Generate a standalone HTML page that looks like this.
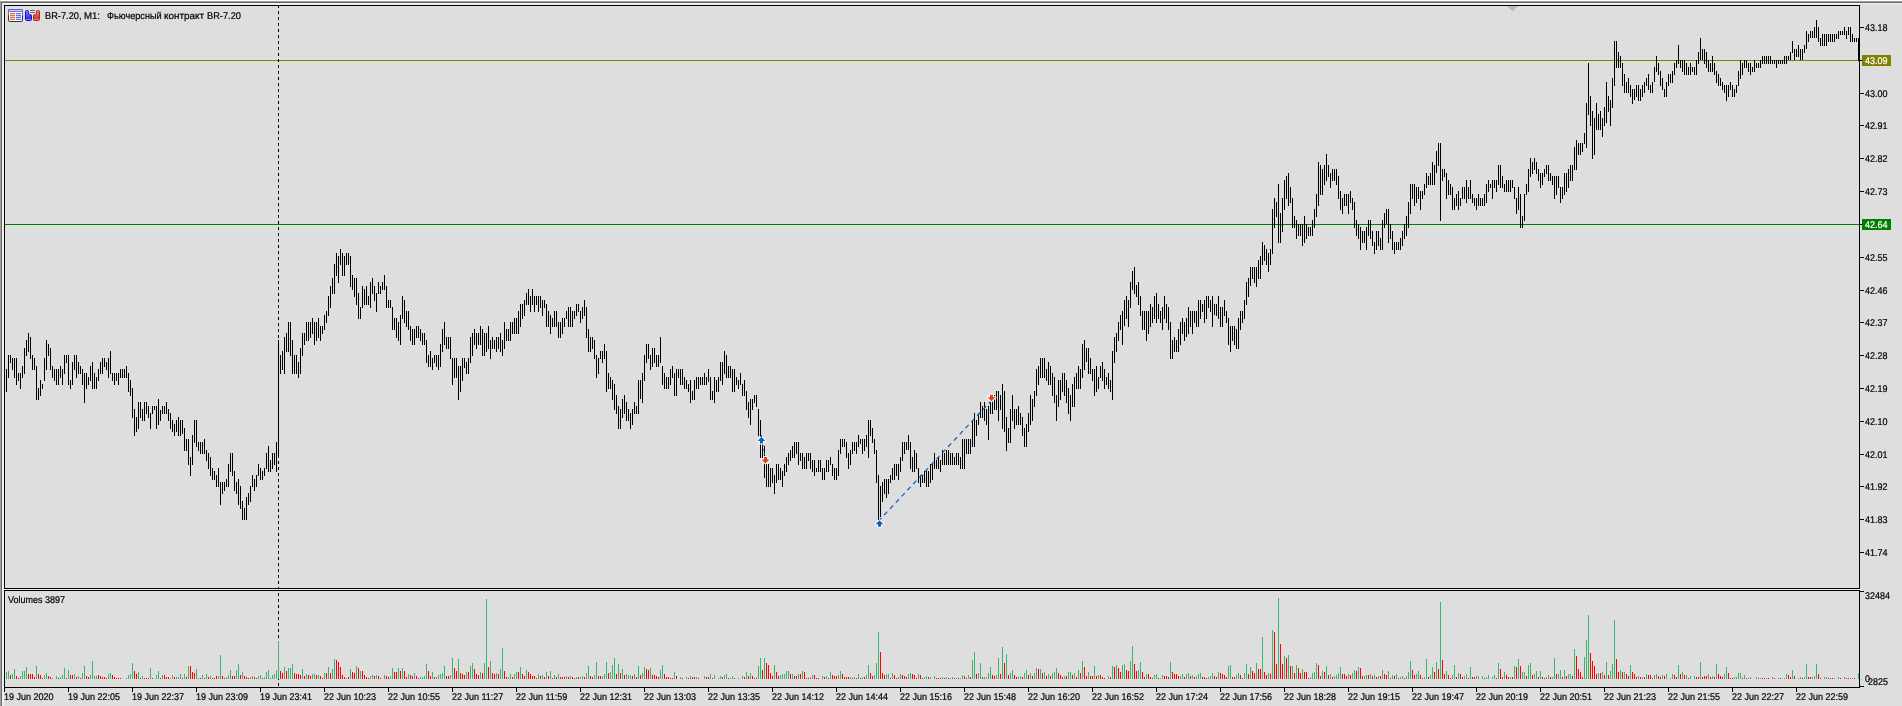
<!DOCTYPE html><html><head><meta charset="utf-8"><title>BR-7.20,M1</title>
<style>
html,body{margin:0;padding:0;background:#dedede;}
body{width:1902px;height:706px;overflow:hidden;position:relative;font-family:"Liberation Sans",sans-serif;font-size:10px;color:#000;}
#c{position:absolute;left:0;top:0;width:1902px;height:706px;}
.t{position:absolute;white-space:nowrap;line-height:10px;height:10px;transform-origin:0 100%;transform:scale(0.9,0.978);text-rendering:geometricPrecision;-webkit-text-stroke:0.22px currentColor;}
.pl{position:absolute;left:1865px;width:40px;}
</style></head><body>
<svg id="c" width="1902" height="706" viewBox="0 0 1902 706" shape-rendering="crispEdges">
<rect x="0" y="0" width="1902" height="1" fill="#ffffff"/>
<rect x="0" y="1" width="1902" height="1" fill="#a0a0a0"/>
<rect x="0" y="2" width="1902" height="1" fill="#696969"/>
<rect x="0" y="1" width="1" height="705" fill="#a0a0a0"/>
<rect x="1" y="2" width="1" height="704" fill="#696969"/>
<rect x="2" y="3" width="1900" height="1" fill="#f0f0f0"/>
<rect x="2" y="4" width="1858" height="1" fill="#f0f0f0"/>
<rect x="2" y="3" width="2" height="703" fill="#f0f0f0"/>
<path d="M4.5 588.5V5.5H1859.5V588.5H4.5" fill="none" stroke="#000" stroke-width="1"/>
<rect x="4" y="589" width="1856" height="1" fill="#e8e8e8"/>
<path d="M4.5 692V590.5H1859.5V687.5H4.5" fill="none" stroke="#000" stroke-width="1"/>
<path d="M1860 591.5H1864M1860 686.5H1864" stroke="#000" stroke-width="1"/>
<rect x="1860" y="679" width="2" height="1" fill="#c4c4c4"/>
<path d="M1507 6H1518L1512.5 11.5Z" fill="#b9b9b9" shape-rendering="auto"/>
<rect x="5" y="60" width="1854" height="1" fill="#808000"/>
<rect x="5" y="224" width="1854" height="1" fill="#008000"/>
<path d="M278.5 5V687" stroke="#000" stroke-width="1" stroke-dasharray="3 3" fill="none"/>
<rect x="278" y="589" width="1" height="1" fill="#e8e8e8"/>
<path d="M68.5 688V692M132.5 688V692M196.5 688V692M260.5 688V692M324.5 688V692M388.5 688V692M452.5 688V692M516.5 688V692M580.5 688V692M644.5 688V692M708.5 688V692M772.5 688V692M836.5 688V692M900.5 688V692M964.5 688V692M1028.5 688V692M1092.5 688V692M1156.5 688V692M1220.5 688V692M1284.5 688V692M1348.5 688V692M1412.5 688V692M1476.5 688V692M1540.5 688V692M1604.5 688V692M1668.5 688V692M1732.5 688V692M1796.5 688V692" stroke="#000" stroke-width="1"/>
<path d="M1860 27.5H1864M1860 60.5H1864M1860 93.5H1864M1860 125.5H1864M1860 158.5H1864M1860 191.5H1864M1860 224.5H1864M1860 257.5H1864M1860 290.5H1864M1860 322.5H1864M1860 355.5H1864M1860 388.5H1864M1860 421.5H1864M1860 454.5H1864M1860 486.5H1864M1860 519.5H1864M1860 552.5H1864" stroke="#000" stroke-width="1"/>
<path d="M6.5 369V392M8.5 355V378M10.5 355V363M12.5 358V370M14.5 358V378M16.5 358V385M18.5 373V381M20.5 373V389M22.5 366V378M24.5 348V374M26.5 340V356M28.5 333V352M30.5 337V359M32.5 355V370M34.5 358V370M36.5 366V400M38.5 388V400M40.5 380V396M42.5 384V389M44.5 358V381M46.5 340V370M48.5 344V356M50.5 348V370M52.5 366V378M54.5 369V381M56.5 369V385M58.5 369V385M60.5 366V378M62.5 369V385M64.5 355V374M66.5 355V363M68.5 355V385M70.5 380V389M72.5 362V385M74.5 355V370M76.5 355V378M78.5 362V374M80.5 366V374M82.5 369V385M84.5 373V403M86.5 373V389M88.5 377V385M90.5 366V381M92.5 362V389M94.5 373V389M96.5 377V389M98.5 369V381M100.5 362V374M102.5 358V374M104.5 358V367M106.5 362V370M108.5 358V378M110.5 351V374M112.5 373V381M114.5 373V385M116.5 373V381M118.5 373V385M120.5 369V378M122.5 369V378M124.5 369V378M126.5 366V378M128.5 373V392M130.5 380V396M132.5 388V418M134.5 409V436M136.5 417V432M138.5 402V429M140.5 402V418M142.5 409V421M144.5 402V421M146.5 402V414M148.5 406V418M150.5 413V429M152.5 406V414M154.5 406V410M156.5 406V429M158.5 399V425M160.5 410V421M162.5 406V414M164.5 406V414M166.5 402V414M168.5 409V421M170.5 413V429M172.5 420V432M174.5 424V436M176.5 420V432M178.5 417V436M180.5 420V436M182.5 420V434M184.5 428V451M186.5 439V451M188.5 439V465M190.5 457V476M192.5 435V465M194.5 420V443M196.5 420V447M198.5 442V451M200.5 442V454M202.5 442V454M204.5 439V454M206.5 450V461M208.5 453V469M210.5 457V476M212.5 468V480M214.5 471V480M216.5 475V487M218.5 468V487M220.5 482V505M222.5 482V494M224.5 482V491M226.5 479V487M228.5 464V487M230.5 453V472M232.5 453V476M234.5 471V491M236.5 482V494M238.5 479V505M240.5 486V509M242.5 501V520M244.5 508V520M246.5 497V520M248.5 493V505M250.5 486V502M252.5 475V487M254.5 479V491M256.5 475V487M258.5 464V476M260.5 468V480M262.5 471V480M264.5 468V476M266.5 453V469M268.5 446V472M270.5 460V472M272.5 453V469M274.5 453V465M276.5 442V472M278.5 340V458M280.5 355V374M282.5 351V370M284.5 337V374M286.5 333V352M288.5 322V352M290.5 322V356M292.5 340V374M294.5 355V374M296.5 355V374M298.5 362V378M300.5 348V374M302.5 333V356M304.5 333V345M306.5 322V341M308.5 322V341M310.5 322V338M312.5 318V334M314.5 322V345M316.5 322V341M318.5 318V338M320.5 326V341M322.5 326V334M324.5 315V330M326.5 311V323M328.5 296V316M330.5 286V308M332.5 278V294M334.5 264V294M336.5 253V276M338.5 256V283M340.5 249V265M342.5 253V276M344.5 256V276M346.5 253V265M348.5 253V265M350.5 256V287M352.5 275V290M354.5 278V297M356.5 278V305M358.5 293V319M360.5 307V319M362.5 286V308M364.5 289V305M366.5 286V305M368.5 296V305M370.5 282V308M372.5 278V294M374.5 286V301M376.5 293V312M378.5 282V294M380.5 286V294M382.5 282V290M384.5 275V290M386.5 286V308M388.5 300V308M390.5 300V308M392.5 307V330M394.5 318V330M396.5 318V338M398.5 322V341M400.5 315V345M402.5 296V319M404.5 300V323M406.5 311V327M408.5 311V330M410.5 326V341M412.5 329V345M414.5 329V345M416.5 326V338M418.5 326V338M420.5 329V341M422.5 333V345M424.5 333V345M426.5 340V363M428.5 355V367M430.5 351V367M432.5 358V370M434.5 355V363M436.5 355V367M438.5 355V370M440.5 344V367M442.5 329V352M444.5 322V345M446.5 337V349M448.5 337V349M450.5 337V359M452.5 358V385M454.5 358V378M456.5 358V378M458.5 366V400M460.5 366V392M462.5 358V381M464.5 358V368M466.5 362V374M468.5 358V374M470.5 337V363M472.5 333V356M474.5 329V345M476.5 333V349M478.5 333V345M480.5 326V345M482.5 329V356M484.5 333V356M486.5 333V352M488.5 326V349M490.5 340V359M492.5 337V349M494.5 340V349M496.5 337V352M498.5 337V349M500.5 333V352M502.5 340V356M504.5 322V349M506.5 329V341M508.5 329V341M510.5 322V341M512.5 322V334M514.5 318V334M516.5 318V334M518.5 311V334M520.5 304V327M522.5 304V319M524.5 300V316M526.5 293V305M528.5 289V305M530.5 296V312M532.5 289V305M534.5 296V312M536.5 296V305M538.5 296V312M540.5 296V308M542.5 300V316M544.5 300V308M546.5 304V327M548.5 311V327M550.5 315V334M552.5 318V327M554.5 311V327M556.5 311V327M558.5 322V338M560.5 322V338M562.5 318V334M564.5 318V327M566.5 311V319M568.5 307V327M570.5 307V327M572.5 311V327M574.5 311V319M576.5 304V316M578.5 304V312M580.5 311V323M582.5 307V319M584.5 300V316M586.5 307V338M588.5 329V352M590.5 337V352M592.5 337V349M594.5 340V359M596.5 355V378M598.5 358V374M600.5 351V359M602.5 351V363M604.5 344V359M606.5 351V392M608.5 373V389M610.5 377V389M612.5 380V400M614.5 384V410M616.5 395V414M618.5 406V429M620.5 409V429M622.5 399V418M624.5 395V414M626.5 402V421M628.5 409V421M630.5 413V429M632.5 409V425M634.5 402V414M636.5 406V414M638.5 380V414M640.5 380V399M642.5 373V403M644.5 355V381M646.5 344V363M648.5 344V359M650.5 355V370M652.5 348V367M654.5 348V363M656.5 355V367M658.5 355V367M660.5 337V363M662.5 366V385M664.5 373V389M666.5 377V389M668.5 377V389M670.5 369V385M672.5 366V378M674.5 373V396M676.5 369V396M678.5 369V378M680.5 369V385M682.5 369V385M684.5 377V389M686.5 380V389M688.5 384V392M690.5 380V403M692.5 391V400M694.5 380V400M696.5 377V389M698.5 377V389M700.5 377V385M702.5 377V385M704.5 373V385M706.5 377V385M708.5 369V382M710.5 377V400M712.5 391V400M714.5 377V403M716.5 380V392M718.5 377V392M720.5 362V381M722.5 362V385M724.5 351V374M726.5 355V378M728.5 366V378M730.5 366V378M732.5 369V392M734.5 369V392M736.5 377V385M738.5 380V389M740.5 373V385M742.5 384V396M744.5 380V396M746.5 391V410M748.5 402V418M750.5 399V425M752.5 399V410M754.5 395V403M756.5 395V407M758.5 409V436M760.5 420V458M762.5 440V458M764.5 446V478M766.5 464V487M768.5 464V487M770.5 468V487M772.5 468V483M774.5 475V494M776.5 464V483M778.5 464V480M780.5 468V480M782.5 471V487M784.5 464V476M786.5 457V472M788.5 453V465M790.5 450V461M792.5 446V458M794.5 442V458M796.5 442V454M798.5 442V465M800.5 453V461M802.5 453V469M804.5 457V469M806.5 453V469M808.5 453V461M810.5 453V469M812.5 460V472M814.5 460V476M816.5 468V472M818.5 460V472M820.5 460V472M822.5 468V480M824.5 468V480M826.5 460V472M828.5 460V472M830.5 457V465M832.5 464V476M834.5 468V480M836.5 468V480M838.5 450V476M840.5 439V454M842.5 439V447M844.5 439V447M846.5 442V458M848.5 453V469M850.5 450V465M852.5 442V454M854.5 442V451M856.5 442V454M858.5 435V447M860.5 439V444M862.5 439V454M864.5 439V451M866.5 435V447M868.5 420V458M870.5 420V436M872.5 428V443M874.5 439V454M876.5 450V483M878.5 475V520M880.5 486V517M882.5 482V502M884.5 479V494M886.5 479V498M888.5 479V494M890.5 475V483M892.5 468V480M894.5 464V480M896.5 464V476M898.5 464V480M900.5 457V472M902.5 442V461M904.5 442V454M906.5 442V450M908.5 435V450M910.5 442V469M912.5 457V472M914.5 450V472M916.5 453V469M918.5 468V483M920.5 475V487M922.5 475V483M924.5 471V483M926.5 471V487M928.5 471V487M930.5 464V483M932.5 464V480M934.5 453V469M936.5 460V469M938.5 457V469M940.5 460V472M942.5 450V465M944.5 453V465M946.5 450V465M948.5 450V465M950.5 453V465M952.5 453V465M954.5 457V465M956.5 453V465M958.5 453V465M960.5 457V469M962.5 439V469M964.5 439V469M966.5 439V454M968.5 439V454M970.5 439V454M972.5 420V447M974.5 413V447M976.5 420V436M978.5 413V425M980.5 402V418M982.5 406V418M984.5 402V421M986.5 409V425M988.5 406V440M990.5 402V414M992.5 399V414M994.5 395V410M996.5 391V410M998.5 391V421M1000.5 395V410M1002.5 384V429M1004.5 391V432M1006.5 417V451M1008.5 428V443M1010.5 409V443M1012.5 395V421M1014.5 409V429M1016.5 409V425M1018.5 406V425M1020.5 413V425M1022.5 417V436M1024.5 428V447M1026.5 424V447M1028.5 413V432M1030.5 395V425M1032.5 399V421M1034.5 391V407M1036.5 369V396M1038.5 366V385M1040.5 358V378M1042.5 358V378M1044.5 358V378M1046.5 369V381M1048.5 362V385M1050.5 366V385M1052.5 373V396M1054.5 377V403M1056.5 395V421M1058.5 380V407M1060.5 380V400M1062.5 373V392M1064.5 373V396M1066.5 380V403M1068.5 388V414M1070.5 395V421M1072.5 384V407M1074.5 377V407M1076.5 373V389M1078.5 366V389M1080.5 369V389M1082.5 344V378M1084.5 340V370M1086.5 348V362M1088.5 348V374M1090.5 358V374M1092.5 369V381M1094.5 369V396M1096.5 366V392M1098.5 377V389M1100.5 366V378M1102.5 362V381M1104.5 369V389M1106.5 377V385M1108.5 373V389M1110.5 380V392M1112.5 351V400M1114.5 337V363M1116.5 333V352M1118.5 322V341M1120.5 315V330M1122.5 311V345M1124.5 300V326M1126.5 296V319M1128.5 300V327M1130.5 282V308M1132.5 271V290M1134.5 267V294M1136.5 285V297M1138.5 282V305M1140.5 296V316M1142.5 311V330M1144.5 311V330M1146.5 311V341M1148.5 311V334M1150.5 304V327M1152.5 307V323M1154.5 296V319M1156.5 293V323M1158.5 304V319M1160.5 311V323M1162.5 307V330M1164.5 296V319M1166.5 304V323M1168.5 307V330M1170.5 322V359M1172.5 340V359M1174.5 337V352M1176.5 340V352M1178.5 329V352M1180.5 322V345M1182.5 318V334M1184.5 322V341M1186.5 318V337M1188.5 307V334M1190.5 311V327M1192.5 311V334M1194.5 311V323M1196.5 311V327M1198.5 300V327M1200.5 300V319M1202.5 304V312M1204.5 300V323M1206.5 296V319M1208.5 296V308M1210.5 300V312M1212.5 296V327M1214.5 304V315M1216.5 304V316M1218.5 296V319M1220.5 307V327M1222.5 307V327M1224.5 300V316M1226.5 311V323M1228.5 318V345M1230.5 326V352M1232.5 326V341M1234.5 326V345M1236.5 329V349M1238.5 318V349M1240.5 311V330M1242.5 311V323M1244.5 300V319M1246.5 282V305M1248.5 278V297M1250.5 267V286M1252.5 267V279M1254.5 267V283M1256.5 267V287M1258.5 260V279M1260.5 256V279M1262.5 242V265M1264.5 245V261M1266.5 249V265M1268.5 253V272M1270.5 249V265M1272.5 209V254M1274.5 198V228M1276.5 202V217M1278.5 184V243M1280.5 213V243M1282.5 198V232M1284.5 180V210M1286.5 176V199M1288.5 173V206M1290.5 187V203M1292.5 198V228M1294.5 216V228M1296.5 220V239M1298.5 224V236M1300.5 224V236M1302.5 224V246M1304.5 216V243M1306.5 224V239M1308.5 227V236M1310.5 227V236M1312.5 220V236M1314.5 209V228M1316.5 194V217M1318.5 162V206M1320.5 165V195M1322.5 169V195M1324.5 165V185M1326.5 154V181M1328.5 165V177M1330.5 173V188M1332.5 169V181M1334.5 169V181M1336.5 169V185M1338.5 176V199M1340.5 191V210M1342.5 198V214M1344.5 194V206M1346.5 194V206M1348.5 194V214M1350.5 191V203M1352.5 198V210M1354.5 202V228M1356.5 220V236M1358.5 224V239M1360.5 227V250M1362.5 231V243M1364.5 231V243M1366.5 227V250M1368.5 220V236M1370.5 220V239M1372.5 231V246M1374.5 242V254M1376.5 231V250M1378.5 231V246M1380.5 238V250M1382.5 220V250M1384.5 213V228M1386.5 209V224M1388.5 209V243M1390.5 224V239M1392.5 231V250M1394.5 242V254M1396.5 242V250M1398.5 242V250M1400.5 238V250M1402.5 231V246M1404.5 224V239M1406.5 216V236M1408.5 202V228M1410.5 184V214M1412.5 184V199M1414.5 184V206M1416.5 187V203M1418.5 187V199M1420.5 191V210M1422.5 191V199M1424.5 184V195M1426.5 173V188M1428.5 176V185M1430.5 173V185M1432.5 162V185M1434.5 165V185M1436.5 151V173M1438.5 143V166M1440.5 143V221M1442.5 169V181M1444.5 169V177M1446.5 173V199M1448.5 180V195M1450.5 184V195M1452.5 187V210M1454.5 198V210M1456.5 194V206M1458.5 191V210M1460.5 198V206M1462.5 187V199M1464.5 187V199M1466.5 180V203M1468.5 187V199M1470.5 180V199M1472.5 194V203M1474.5 198V206M1476.5 198V210M1478.5 194V206M1480.5 198V206M1482.5 198V206M1484.5 194V206M1486.5 184V203M1488.5 180V192M1490.5 184V188M1492.5 180V199M1494.5 180V188M1496.5 180V192M1498.5 165V185M1500.5 165V188M1502.5 176V188M1504.5 184V192M1506.5 180V192M1508.5 180V192M1510.5 180V192M1512.5 180V188M1514.5 187V199M1516.5 198V214M1518.5 187V210M1520.5 194V228M1522.5 216V228M1524.5 194V221M1526.5 184V195M1528.5 169V192M1530.5 158V177M1532.5 162V174M1534.5 158V170M1536.5 162V174M1538.5 169V181M1540.5 173V188M1542.5 173V185M1544.5 169V177M1546.5 165V174M1548.5 165V181M1550.5 173V181M1552.5 176V185M1554.5 176V199M1556.5 176V195M1558.5 176V188M1560.5 187V203M1562.5 187V199M1564.5 173V195M1566.5 173V192M1568.5 169V188M1570.5 165V181M1572.5 165V181M1574.5 147V170M1576.5 140V170M1578.5 143V155M1580.5 143V155M1582.5 143V152M1584.5 133V144M1586.5 103V148M1588.5 63V115M1590.5 96V126M1592.5 111V159M1594.5 118V155M1596.5 103V130M1598.5 114V130M1600.5 111V130M1602.5 118V137M1604.5 107V126M1606.5 82V123M1608.5 96V112M1610.5 100V126M1612.5 78V108M1614.5 41V86M1616.5 41V68M1618.5 52V68M1620.5 56V68M1622.5 63V86M1624.5 74V93M1626.5 82V93M1628.5 78V93M1630.5 85V97M1632.5 89V104M1634.5 89V100M1636.5 85V97M1638.5 85V101M1640.5 89V101M1642.5 85V97M1644.5 82V93M1646.5 78V86M1648.5 74V90M1650.5 85V93M1652.5 82V93M1654.5 67V82M1656.5 56V72M1658.5 63V75M1660.5 71V86M1662.5 78V90M1664.5 89V97M1666.5 82V97M1668.5 74V86M1670.5 74V83M1672.5 71V83M1674.5 63V75M1676.5 60V68M1678.5 45V64M1680.5 60V68M1682.5 60V72M1684.5 60V75M1686.5 63V75M1688.5 67V75M1690.5 63V75M1692.5 67V72M1694.5 67V75M1696.5 60V75M1698.5 52V64M1700.5 38V60M1702.5 49V60M1704.5 49V64M1706.5 52V68M1708.5 60V72M1710.5 63V72M1712.5 56V72M1714.5 63V75M1716.5 71V83M1718.5 74V86M1720.5 78V86M1722.5 82V90M1724.5 85V93M1726.5 85V101M1728.5 85V97M1730.5 82V90M1732.5 85V97M1734.5 89V97M1736.5 85V93M1738.5 71V86M1740.5 60V79M1742.5 63V75M1744.5 60V68M1746.5 60V68M1748.5 63V72M1750.5 63V75M1752.5 67V72M1754.5 60V72M1756.5 63V68M1758.5 63V68M1760.5 60V68M1762.5 56V64M1764.5 56V64M1766.5 56V64M1768.5 56V64M1770.5 56V64M1772.5 60V64M1774.5 60V64M1776.5 60V68M1778.5 60V64M1780.5 60V64M1782.5 60V64M1784.5 56V64M1786.5 56V64M1788.5 56V60M1790.5 52V60M1792.5 41V53M1794.5 49V60M1796.5 49V57M1798.5 45V57M1800.5 49V60M1802.5 49V60M1804.5 45V53M1806.5 31V49M1808.5 34V42M1810.5 31V38M1812.5 31V38M1814.5 27V38M1816.5 20V38M1818.5 27V42M1820.5 38V46M1822.5 34V46M1824.5 34V46M1826.5 34V46M1828.5 34V42M1830.5 34V42M1832.5 34V42M1834.5 34V42M1836.5 34V39M1838.5 31V39M1840.5 31V35M1842.5 31V35M1844.5 27V35M1846.5 31V39M1848.5 27V35M1850.5 27V42M1852.5 34V42M1854.5 38V42M1856.5 38V42M1858.5 38V60" stroke="#000" stroke-width="1" fill="none"/>
<path d="M6.5 672V679M8.5 671V679M12.5 674V679M14.5 669V679M20.5 676V679M22.5 671V679M24.5 671V679M26.5 667V679M36.5 666V679M44.5 675V679M46.5 673V679M52.5 678V679M56.5 676V679M60.5 677V679M62.5 675V679M64.5 668V679M68.5 670V679M74.5 674V679M78.5 676V679M82.5 673V679M84.5 666V679M90.5 675V679M92.5 661V679M94.5 676V679M96.5 676V679M108.5 674V679M110.5 673V679M126.5 678V679M128.5 675V679M130.5 674V679M132.5 663V679M138.5 672V679M142.5 676V679M150.5 668V679M156.5 675V679M158.5 671V679M162.5 675V679M170.5 678V679M172.5 675V679M176.5 677V679M178.5 677V679M180.5 674V679M184.5 674V679M188.5 666V679M196.5 669V679M198.5 678V679M202.5 675V679M206.5 674V679M210.5 676V679M218.5 676V679M220.5 655V679M226.5 677V679M228.5 675V679M230.5 670V679M236.5 670V679M238.5 664V679M242.5 672V679M250.5 677V679M252.5 676V679M258.5 676V679M260.5 675V679M264.5 677V679M266.5 672V679M268.5 670V679M272.5 675V679M274.5 674V679M276.5 670V679M278.5 641V679M284.5 667V679M288.5 668V679M290.5 668V679M292.5 664V679M302.5 669V679M306.5 674V679M312.5 674V679M314.5 674V679M318.5 675V679M324.5 673V679M328.5 667V679M332.5 669V679M334.5 659V679M346.5 678V679M350.5 669V679M356.5 666V679M360.5 671V679M370.5 676V679M372.5 675V679M376.5 675V679M384.5 675V679M390.5 676V679M392.5 668V679M398.5 668V679M402.5 668V679M408.5 674V679M414.5 673V679M420.5 677V679M422.5 677V679M424.5 676V679M426.5 664V679M432.5 672V679M436.5 677V679M438.5 675V679M440.5 674V679M442.5 673V679M444.5 666V679M450.5 675V679M452.5 658V679M458.5 659V679M466.5 672V679M470.5 666V679M472.5 663V679M480.5 672V679M484.5 663V679M486.5 599V679M490.5 661V679M496.5 673V679M500.5 669V679M502.5 648V679M508.5 677V679M510.5 674V679M514.5 674V679M516.5 672V679M520.5 667V679M526.5 670V679M538.5 674V679M542.5 675V679M546.5 672V679M550.5 671V679M554.5 675V679M558.5 674V679M566.5 676V679M570.5 676V679M576.5 677V679M580.5 677V679M582.5 676V679M586.5 673V679M588.5 666V679M594.5 675V679M596.5 662V679M602.5 676V679M604.5 674V679M606.5 662V679M610.5 672V679M612.5 665V679M614.5 658V679M618.5 664V679M622.5 669V679M626.5 674V679M628.5 675V679M630.5 675V679M634.5 674V679M638.5 666V679M642.5 673V679M644.5 667V679M650.5 668V679M660.5 670V679M662.5 665V679M674.5 672V679M680.5 677V679M686.5 677V679M690.5 676V679M696.5 677V679M704.5 676V679M710.5 674V679M714.5 675V679M718.5 678V679M720.5 676V679M724.5 675V679M726.5 674V679M730.5 678V679M732.5 676V679M738.5 678V679M742.5 676V679M746.5 672V679M750.5 673V679M756.5 677V679M758.5 666V679M760.5 658V679M764.5 658V679M774.5 665V679M780.5 675V679M782.5 674V679M784.5 674V679M786.5 671V679M788.5 671V679M792.5 674V679M798.5 674V679M802.5 671V679M810.5 677V679M812.5 675V679M822.5 676V679M826.5 676V679M830.5 672V679M838.5 675V679M840.5 671V679M850.5 677V679M854.5 677V679M858.5 674V679M862.5 677V679M866.5 675V679M868.5 665V679M874.5 675V679M876.5 663V679M878.5 632V679M886.5 674V679M888.5 674V679M892.5 673V679M898.5 677V679M900.5 674V679M908.5 674V679M910.5 673V679M918.5 674V679M924.5 677V679M926.5 676V679M930.5 677V679M934.5 676V679M942.5 677V679M946.5 677V679M950.5 678V679M952.5 677V679M956.5 678V679M960.5 678V679M962.5 675V679M968.5 675V679M972.5 660V679M974.5 652V679M978.5 673V679M980.5 663V679M984.5 677V679M986.5 677V679M988.5 673V679M990.5 667V679M996.5 675V679M998.5 658V679M1002.5 647V679M1006.5 654V679M1010.5 673V679M1012.5 670V679M1018.5 677V679M1020.5 676V679M1024.5 673V679M1026.5 670V679M1030.5 673V679M1034.5 673V679M1036.5 668V679M1040.5 669V679M1044.5 672V679M1048.5 674V679M1052.5 673V679M1054.5 672V679M1056.5 668V679M1064.5 676V679M1068.5 672V679M1070.5 672V679M1074.5 673V679M1078.5 670V679M1082.5 661V679M1088.5 672V679M1094.5 666V679M1098.5 675V679M1108.5 676V679M1112.5 666V679M1116.5 665V679M1122.5 665V679M1124.5 664V679M1130.5 661V679M1132.5 646V679M1138.5 670V679M1140.5 662V679M1146.5 674V679M1154.5 675V679M1156.5 674V679M1160.5 678V679M1162.5 675V679M1170.5 662V679M1180.5 676V679M1182.5 674V679M1186.5 674V679M1188.5 673V679M1192.5 675V679M1196.5 676V679M1198.5 674V679M1200.5 673V679M1208.5 677V679M1210.5 676V679M1212.5 673V679M1218.5 672V679M1228.5 666V679M1230.5 665V679M1236.5 675V679M1238.5 673V679M1244.5 673V679M1246.5 664V679M1250.5 667V679M1256.5 663V679M1262.5 637V679M1268.5 673V679M1272.5 630V679M1278.5 598V679M1284.5 656V679M1288.5 655V679M1292.5 666V679M1296.5 665V679M1302.5 669V679M1310.5 677V679M1312.5 673V679M1314.5 672V679M1316.5 663V679M1322.5 671V679M1326.5 666V679M1330.5 674V679M1334.5 676V679M1336.5 675V679M1338.5 673V679M1340.5 667V679M1348.5 674V679M1352.5 673V679M1354.5 670V679M1358.5 667V679M1364.5 676V679M1366.5 675V679M1370.5 674V679M1374.5 675V679M1378.5 676V679M1382.5 670V679M1388.5 671V679M1392.5 675V679M1396.5 674V679M1400.5 677V679M1402.5 676V679M1406.5 676V679M1408.5 672V679M1410.5 661V679M1416.5 674V679M1418.5 671V679M1424.5 677V679M1426.5 659V679M1430.5 675V679M1432.5 667V679M1436.5 662V679M1440.5 602V679M1446.5 671V679M1452.5 675V679M1454.5 665V679M1458.5 673V679M1464.5 676V679M1466.5 674V679M1470.5 667V679M1476.5 676V679M1478.5 676V679M1482.5 676V679M1486.5 677V679M1488.5 675V679M1492.5 677V679M1494.5 675V679M1498.5 663V679M1504.5 672V679M1510.5 677V679M1514.5 666V679M1518.5 659V679M1522.5 672V679M1524.5 672V679M1528.5 665V679M1530.5 663V679M1534.5 674V679M1536.5 671V679M1540.5 671V679M1546.5 677V679M1548.5 675V679M1552.5 677V679M1554.5 658V679M1558.5 674V679M1560.5 670V679M1564.5 670V679M1568.5 674V679M1570.5 674V679M1574.5 649V679M1584.5 657V679M1586.5 640V679M1588.5 615V679M1598.5 673V679M1602.5 672V679M1606.5 662V679M1610.5 671V679M1612.5 664V679M1614.5 620V679M1620.5 670V679M1624.5 672V679M1630.5 665V679M1638.5 676V679M1642.5 677V679M1646.5 674V679M1654.5 675V679M1656.5 674V679M1662.5 675V679M1666.5 674V679M1670.5 678V679M1672.5 674V679M1678.5 665V679M1682.5 672V679M1686.5 675V679M1690.5 676V679M1694.5 676V679M1700.5 662V679M1708.5 674V679M1712.5 676V679M1716.5 664V679M1724.5 674V679M1726.5 667V679M1734.5 677V679M1736.5 677V679M1738.5 673V679M1740.5 673V679M1744.5 675V679M1748.5 678V679M1750.5 677V679M1756.5 677V679M1760.5 678V679M1766.5 678V679M1772.5 677V679M1778.5 678V679M1784.5 678V679M1786.5 674V679M1792.5 670V679M1798.5 678V679M1800.5 677V679M1804.5 677V679M1806.5 664V679M1812.5 677V679M1814.5 676V679M1816.5 664V679M1824.5 677V679M1826.5 677V679M1834.5 678V679M1838.5 677V679M1844.5 677V679M1850.5 678V679M1852.5 678V679M1858.5 673V679" stroke="#3cb371" stroke-width="1" fill="none"/>
<path d="M10.5 675V679M16.5 676V679M18.5 678V679M28.5 674V679M30.5 674V679M32.5 674V679M34.5 677V679M38.5 674V679M40.5 675V679M42.5 678V679M48.5 676V679M50.5 677V679M58.5 678V679M66.5 678V679M70.5 675V679M72.5 675V679M76.5 677V679M80.5 678V679M86.5 676V679M88.5 677V679M98.5 675V679M100.5 676V679M102.5 677V679M104.5 677V679M106.5 678V679M112.5 675V679M114.5 677V679M116.5 678V679M118.5 678V679M120.5 678V679M134.5 671V679M136.5 674V679M140.5 678V679M144.5 678V679M146.5 678V679M148.5 678V679M152.5 678V679M160.5 678V679M164.5 675V679M166.5 677V679M168.5 677V679M174.5 677V679M182.5 678V679M186.5 677V679M190.5 666V679M192.5 672V679M194.5 673V679M200.5 678V679M204.5 678V679M208.5 677V679M212.5 678V679M214.5 678V679M216.5 676V679M222.5 676V679M224.5 678V679M232.5 676V679M234.5 676V679M240.5 675V679M244.5 676V679M246.5 677V679M248.5 678V679M254.5 677V679M256.5 678V679M262.5 678V679M270.5 678V679M280.5 671V679M282.5 673V679M286.5 671V679M294.5 673V679M296.5 674V679M298.5 674V679M300.5 675V679M304.5 676V679M308.5 675V679M310.5 676V679M316.5 675V679M320.5 676V679M322.5 678V679M326.5 673V679M330.5 673V679M336.5 660V679M338.5 662V679M340.5 667V679M342.5 675V679M344.5 677V679M348.5 677V679M352.5 672V679M354.5 673V679M358.5 668V679M362.5 671V679M364.5 675V679M366.5 677V679M368.5 678V679M374.5 676V679M378.5 676V679M380.5 678V679M386.5 676V679M388.5 677V679M394.5 672V679M396.5 672V679M400.5 671V679M404.5 671V679M406.5 677V679M410.5 675V679M412.5 676V679M416.5 676V679M418.5 678V679M428.5 671V679M430.5 676V679M434.5 677V679M446.5 676V679M448.5 676V679M454.5 668V679M456.5 671V679M460.5 673V679M462.5 674V679M464.5 675V679M468.5 672V679M474.5 669V679M476.5 674V679M478.5 675V679M482.5 673V679M488.5 667V679M492.5 673V679M494.5 674V679M498.5 674V679M504.5 671V679M506.5 677V679M512.5 677V679M518.5 672V679M522.5 674V679M524.5 676V679M528.5 672V679M530.5 674V679M532.5 676V679M534.5 676V679M536.5 678V679M540.5 676V679M544.5 677V679M548.5 676V679M552.5 678V679M556.5 677V679M560.5 677V679M562.5 677V679M564.5 677V679M568.5 677V679M572.5 677V679M574.5 678V679M578.5 677V679M584.5 677V679M590.5 676V679M592.5 677V679M598.5 676V679M600.5 676V679M608.5 673V679M616.5 674V679M620.5 673V679M624.5 675V679M632.5 676V679M636.5 677V679M640.5 675V679M646.5 669V679M648.5 670V679M652.5 675V679M654.5 675V679M656.5 676V679M658.5 677V679M664.5 674V679M666.5 677V679M668.5 677V679M670.5 678V679M672.5 678V679M676.5 676V679M682.5 678V679M688.5 678V679M692.5 677V679M694.5 677V679M698.5 678V679M706.5 677V679M708.5 677V679M712.5 678V679M722.5 677V679M728.5 678V679M734.5 678V679M744.5 677V679M748.5 676V679M752.5 676V679M754.5 678V679M762.5 670V679M766.5 663V679M768.5 665V679M770.5 673V679M772.5 676V679M776.5 672V679M778.5 676V679M790.5 674V679M794.5 676V679M796.5 676V679M800.5 674V679M804.5 672V679M806.5 678V679M808.5 678V679M814.5 675V679M816.5 678V679M818.5 678V679M824.5 677V679M828.5 678V679M832.5 675V679M834.5 676V679M836.5 676V679M842.5 674V679M844.5 677V679M846.5 677V679M848.5 677V679M852.5 678V679M856.5 678V679M860.5 678V679M864.5 677V679M870.5 673V679M872.5 676V679M880.5 652V679M882.5 673V679M884.5 675V679M890.5 678V679M894.5 675V679M896.5 678V679M902.5 675V679M904.5 676V679M906.5 677V679M912.5 674V679M914.5 675V679M916.5 678V679M920.5 675V679M922.5 678V679M928.5 677V679M936.5 678V679M938.5 678V679M940.5 678V679M944.5 678V679M948.5 678V679M954.5 678V679M958.5 678V679M964.5 676V679M966.5 678V679M970.5 677V679M976.5 674V679M982.5 677V679M992.5 675V679M994.5 676V679M1000.5 674V679M1004.5 663V679M1008.5 675V679M1014.5 675V679M1016.5 677V679M1022.5 677V679M1028.5 675V679M1032.5 676V679M1038.5 669V679M1042.5 673V679M1046.5 676V679M1050.5 676V679M1058.5 673V679M1060.5 675V679M1062.5 677V679M1066.5 676V679M1072.5 675V679M1076.5 677V679M1080.5 673V679M1084.5 667V679M1086.5 676V679M1090.5 676V679M1092.5 676V679M1096.5 676V679M1100.5 675V679M1102.5 677V679M1104.5 678V679M1110.5 677V679M1114.5 667V679M1118.5 668V679M1120.5 672V679M1126.5 670V679M1128.5 671V679M1134.5 664V679M1136.5 671V679M1142.5 672V679M1144.5 677V679M1148.5 674V679M1150.5 677V679M1152.5 678V679M1158.5 678V679M1164.5 676V679M1166.5 676V679M1168.5 677V679M1172.5 672V679M1174.5 674V679M1176.5 674V679M1178.5 676V679M1184.5 677V679M1190.5 676V679M1194.5 677V679M1202.5 677V679M1204.5 677V679M1206.5 678V679M1214.5 676V679M1216.5 677V679M1220.5 673V679M1222.5 674V679M1224.5 675V679M1226.5 677V679M1232.5 677V679M1234.5 677V679M1240.5 675V679M1242.5 678V679M1248.5 674V679M1252.5 671V679M1254.5 673V679M1258.5 669V679M1260.5 669V679M1264.5 672V679M1266.5 675V679M1270.5 674V679M1274.5 632V679M1276.5 664V679M1280.5 644V679M1282.5 664V679M1286.5 658V679M1290.5 666V679M1294.5 673V679M1298.5 668V679M1300.5 673V679M1304.5 672V679M1306.5 672V679M1308.5 678V679M1318.5 665V679M1320.5 676V679M1324.5 672V679M1328.5 675V679M1332.5 677V679M1342.5 674V679M1344.5 674V679M1346.5 676V679M1350.5 675V679M1356.5 671V679M1360.5 668V679M1362.5 676V679M1368.5 675V679M1372.5 676V679M1376.5 677V679M1380.5 676V679M1384.5 674V679M1386.5 675V679M1390.5 678V679M1394.5 676V679M1398.5 678V679M1404.5 678V679M1412.5 670V679M1414.5 675V679M1420.5 675V679M1422.5 678V679M1428.5 677V679M1434.5 672V679M1438.5 669V679M1442.5 660V679M1444.5 674V679M1448.5 675V679M1450.5 678V679M1456.5 677V679M1460.5 674V679M1462.5 677V679M1468.5 678V679M1472.5 677V679M1474.5 677V679M1484.5 678V679M1496.5 678V679M1500.5 669V679M1502.5 677V679M1506.5 675V679M1508.5 677V679M1512.5 677V679M1516.5 667V679M1520.5 666V679M1526.5 676V679M1532.5 675V679M1538.5 677V679M1542.5 677V679M1544.5 678V679M1550.5 677V679M1556.5 674V679M1562.5 677V679M1566.5 676V679M1572.5 676V679M1576.5 656V679M1578.5 669V679M1580.5 672V679M1582.5 677V679M1590.5 653V679M1592.5 661V679M1594.5 666V679M1596.5 674V679M1600.5 673V679M1604.5 675V679M1608.5 675V679M1616.5 659V679M1618.5 672V679M1622.5 672V679M1626.5 674V679M1628.5 676V679M1632.5 672V679M1634.5 674V679M1636.5 677V679M1640.5 677V679M1644.5 677V679M1648.5 675V679M1650.5 675V679M1652.5 678V679M1658.5 676V679M1660.5 677V679M1664.5 676V679M1674.5 675V679M1676.5 677V679M1680.5 674V679M1684.5 675V679M1688.5 678V679M1696.5 677V679M1698.5 677V679M1702.5 677V679M1704.5 676V679M1706.5 676V679M1710.5 677V679M1714.5 677V679M1718.5 674V679M1720.5 676V679M1722.5 677V679M1728.5 673V679M1730.5 678V679M1732.5 678V679M1742.5 678V679M1746.5 678V679M1758.5 678V679M1762.5 678V679M1764.5 678V679M1768.5 678V679M1774.5 678V679M1780.5 678V679M1788.5 675V679M1790.5 677V679M1794.5 676V679M1802.5 678V679M1808.5 677V679M1810.5 677V679M1818.5 674V679M1820.5 678V679M1828.5 678V679M1830.5 678V679M1832.5 678V679M1840.5 678V679M1846.5 678V679M1848.5 678V679M1854.5 678V679" stroke="#ff0000" stroke-width="1" fill="none"/>
<rect x="1858" y="38" width="1" height="23" fill="#000"/>
<rect x="1862" y="55" width="29" height="11" fill="#808000"/>
<rect x="1862" y="219" width="29" height="11" fill="#008000"/>
<rect x="1860" y="60" width="2" height="1" fill="#000"/>
<rect x="1860" y="224" width="2" height="1" fill="#000"/>
<path d="M762 441L765.5 459" stroke="#0f62be" stroke-width="1" stroke-dasharray="2 2" fill="none" shape-rendering="auto"/><path d="M879.3 520.2L991.2 400.8" stroke="#0f62be" stroke-width="1.25" stroke-dasharray="4.6 3.9" stroke-dashoffset="1.4" fill="none" shape-rendering="auto"/><path d="M761.5 437.0L765.5 441.0H763.0V443.5H760.0V441.0H757.5Z" fill="#0f62be" stroke="#fff" stroke-width="2" stroke-linejoin="round" paint-order="stroke" shape-rendering="auto"/><rect x="761" y="435" width="1" height="3" fill="#0f62be"/><path d="M764.0 457.0H767.0V459.5H769.5L765.5 463.5L761.5 459.5H764.0Z" fill="#e2401c" stroke="#fff" stroke-width="2" stroke-linejoin="round" paint-order="stroke" shape-rendering="auto"/><path d="M879.5 520.3L883.5 524.3H881.0V526.8H878.0V524.3H875.5Z" fill="#0f62be" stroke="#fff" stroke-width="2" stroke-linejoin="round" paint-order="stroke" shape-rendering="auto"/><path d="M990.0 394.8H993.0V397.3H995.5L991.5 401.3L987.5 397.3H990.0Z" fill="#e2401c" stroke="#fff" stroke-width="2" stroke-linejoin="round" paint-order="stroke" shape-rendering="auto"/>
<g shape-rendering="auto"><rect x="8.5" y="9.5" width="14" height="12" rx="1.2" fill="#fff" stroke="#7a7a7a" stroke-width="1"/><path d="M8.5 15.5V20.3Q8.5 21.5 9.7 21.5H21.3Q22.5 21.5 22.5 20.3V15.5" fill="none" stroke="#333" stroke-width="1"/><path d="M8 11V10.2Q8 9 9.2 9H21.8Q23 9 23 10.2V11Z" fill="#5c5cff"/><rect x="9" y="10" width="13" height="1" fill="#c8c8ff"/><rect x="8" y="11" width="15" height="1" fill="#7878b0"/><rect x="10" y="13" width="5" height="1" fill="#e2665c"/><rect x="16" y="13" width="5" height="1" fill="#6a6af2"/><rect x="10" y="15" width="5" height="1" fill="#e2665c"/><rect x="16" y="15" width="5" height="1" fill="#6a6af2"/><rect x="10" y="17" width="5" height="1" fill="#e2665c"/><rect x="16" y="17" width="5" height="1" fill="#6a6af2"/><rect x="10" y="19" width="5" height="1" fill="#e2665c"/><rect x="16" y="19" width="5" height="1" fill="#6a6af2"/><rect x="10" y="14" width="5" height="1" fill="#f8d0cc"/><rect x="16" y="14" width="5" height="1" fill="#d0d0fa"/><rect x="10" y="16" width="5" height="1" fill="#f8d0cc"/><rect x="16" y="16" width="5" height="1" fill="#d0d0fa"/><rect x="10" y="18" width="5" height="1" fill="#f8d0cc"/><rect x="16" y="18" width="5" height="1" fill="#d0d0fa"/><defs><linearGradient id="gb" x1="0" y1="0" x2="0" y2="1"><stop offset="0" stop-color="#8080f8"/><stop offset="1" stop-color="#2020e0"/></linearGradient><linearGradient id="gr" x1="0" y1="0" x2="0" y2="1"><stop offset="0" stop-color="#f08878"/><stop offset="1" stop-color="#c03028"/></linearGradient></defs><path d="M26.6 10.5H27.4Q28.5 10.5 28.5 11.6V13.4Q28.5 14.5 29.6 14.5H30.2Q31.5 14.5 31.5 15.8V19.2Q31.5 20.5 30.2 20.5H26.8Q25.5 20.5 25.5 19.2V11.6Q25.5 10.5 26.6 10.5Z" fill="url(#gb)" stroke="#1010e0" stroke-width="1"/><rect x="26" y="19" width="5" height="1" fill="#8888e8"/><path d="M38.4 10.5H37.6Q36.5 10.5 36.5 11.6V13.4Q36.5 14.5 35.4 14.5H34.8Q33.5 14.5 33.5 15.8V19.2Q33.5 20.5 34.8 20.5H38.2Q39.5 20.5 39.5 19.2V11.6Q39.5 10.5 38.4 10.5Z" fill="url(#gr)" stroke="#b82018" stroke-width="1"/><rect x="34" y="19" width="5" height="1" fill="#e08880"/><rect x="30" y="10" width="5" height="1" fill="#606060"/><rect x="30" y="12" width="5" height="1" fill="#606060"/><rect x="30" y="11" width="5" height="1" fill="#f4f4f4"/><rect x="30" y="13" width="4" height="1" fill="#f4f4f4"/></g>
</svg>
<div id="tx" style="position:absolute;left:0;top:0;width:1902px;height:706px;will-change:transform;">
<div class="t" style="left:1865px;top:24px;letter-spacing:0;color:#000;">43.18</div>
<div class="t" style="left:1865px;top:90px;letter-spacing:0;color:#000;">43.00</div>
<div class="t" style="left:1865px;top:122px;letter-spacing:0;color:#000;">42.91</div>
<div class="t" style="left:1865px;top:155px;letter-spacing:0;color:#000;">42.82</div>
<div class="t" style="left:1865px;top:188px;letter-spacing:0;color:#000;">42.73</div>
<div class="t" style="left:1865px;top:254px;letter-spacing:0;color:#000;">42.55</div>
<div class="t" style="left:1865px;top:287px;letter-spacing:0;color:#000;">42.46</div>
<div class="t" style="left:1865px;top:319px;letter-spacing:0;color:#000;">42.37</div>
<div class="t" style="left:1865px;top:352px;letter-spacing:0;color:#000;">42.28</div>
<div class="t" style="left:1865px;top:385px;letter-spacing:0;color:#000;">42.19</div>
<div class="t" style="left:1865px;top:418px;letter-spacing:0;color:#000;">42.10</div>
<div class="t" style="left:1865px;top:451px;letter-spacing:0;color:#000;">42.01</div>
<div class="t" style="left:1865px;top:483px;letter-spacing:0;color:#000;">41.92</div>
<div class="t" style="left:1865px;top:516px;letter-spacing:0;color:#000;">41.83</div>
<div class="t" style="left:1865px;top:549px;letter-spacing:0;color:#000;">41.74</div>
<div class="t" style="left:1865px;top:57px;letter-spacing:0;color:#fff;">43.09</div>
<div class="t" style="left:1865px;top:221px;letter-spacing:0;color:#fff;">42.64</div>
<div class="t" style="left:1865px;top:592px;letter-spacing:0;color:#000;">32484</div>
<div class="t" style="left:1865px;top:675px;letter-spacing:0;color:#000;">0</div>
<div class="t" style="left:1868px;top:678px;letter-spacing:0;color:#000;">2825</div>
<div class="t" style="left:8px;top:596px;letter-spacing:0;color:#000;">Volumes 3897</div>
<div class="t" style="left:45.0px;top:12px;transform:scale(0.925,0.978);">BR-7.20,</div>
<div class="t" style="left:84.0px;top:12px;transform:scale(0.960,0.978);">M1:</div>
<div class="t" style="left:106.5px;top:12px;transform:scale(0.915,0.978);">Фьючерсный</div>
<div class="t" style="left:164.3px;top:12px;transform:scale(0.990,0.978);">контракт</div>
<div class="t" style="left:207.0px;top:12px;transform:scale(0.925,0.978);">BR-7.20</div>
<div class="t" style="left:4px;top:693px;letter-spacing:0;color:#000;">19 Jun 2020</div>
<div class="t" style="left:68px;top:693px;letter-spacing:0;color:#000;">19 Jun 22:05</div>
<div class="t" style="left:132px;top:693px;letter-spacing:0;color:#000;">19 Jun 22:37</div>
<div class="t" style="left:196px;top:693px;letter-spacing:0;color:#000;">19 Jun 23:09</div>
<div class="t" style="left:260px;top:693px;letter-spacing:0;color:#000;">19 Jun 23:41</div>
<div class="t" style="left:324px;top:693px;letter-spacing:0;color:#000;">22 Jun 10:23</div>
<div class="t" style="left:388px;top:693px;letter-spacing:0;color:#000;">22 Jun 10:55</div>
<div class="t" style="left:452px;top:693px;letter-spacing:0;color:#000;">22 Jun 11:27</div>
<div class="t" style="left:516px;top:693px;letter-spacing:0;color:#000;">22 Jun 11:59</div>
<div class="t" style="left:580px;top:693px;letter-spacing:0;color:#000;">22 Jun 12:31</div>
<div class="t" style="left:644px;top:693px;letter-spacing:0;color:#000;">22 Jun 13:03</div>
<div class="t" style="left:708px;top:693px;letter-spacing:0;color:#000;">22 Jun 13:35</div>
<div class="t" style="left:772px;top:693px;letter-spacing:0;color:#000;">22 Jun 14:12</div>
<div class="t" style="left:836px;top:693px;letter-spacing:0;color:#000;">22 Jun 14:44</div>
<div class="t" style="left:900px;top:693px;letter-spacing:0;color:#000;">22 Jun 15:16</div>
<div class="t" style="left:964px;top:693px;letter-spacing:0;color:#000;">22 Jun 15:48</div>
<div class="t" style="left:1028px;top:693px;letter-spacing:0;color:#000;">22 Jun 16:20</div>
<div class="t" style="left:1092px;top:693px;letter-spacing:0;color:#000;">22 Jun 16:52</div>
<div class="t" style="left:1156px;top:693px;letter-spacing:0;color:#000;">22 Jun 17:24</div>
<div class="t" style="left:1220px;top:693px;letter-spacing:0;color:#000;">22 Jun 17:56</div>
<div class="t" style="left:1284px;top:693px;letter-spacing:0;color:#000;">22 Jun 18:28</div>
<div class="t" style="left:1348px;top:693px;letter-spacing:0;color:#000;">22 Jun 19:15</div>
<div class="t" style="left:1412px;top:693px;letter-spacing:0;color:#000;">22 Jun 19:47</div>
<div class="t" style="left:1476px;top:693px;letter-spacing:0;color:#000;">22 Jun 20:19</div>
<div class="t" style="left:1540px;top:693px;letter-spacing:0;color:#000;">22 Jun 20:51</div>
<div class="t" style="left:1604px;top:693px;letter-spacing:0;color:#000;">22 Jun 21:23</div>
<div class="t" style="left:1668px;top:693px;letter-spacing:0;color:#000;">22 Jun 21:55</div>
<div class="t" style="left:1732px;top:693px;letter-spacing:0;color:#000;">22 Jun 22:27</div>
<div class="t" style="left:1796px;top:693px;letter-spacing:0;color:#000;">22 Jun 22:59</div>
</div>
</body></html>
